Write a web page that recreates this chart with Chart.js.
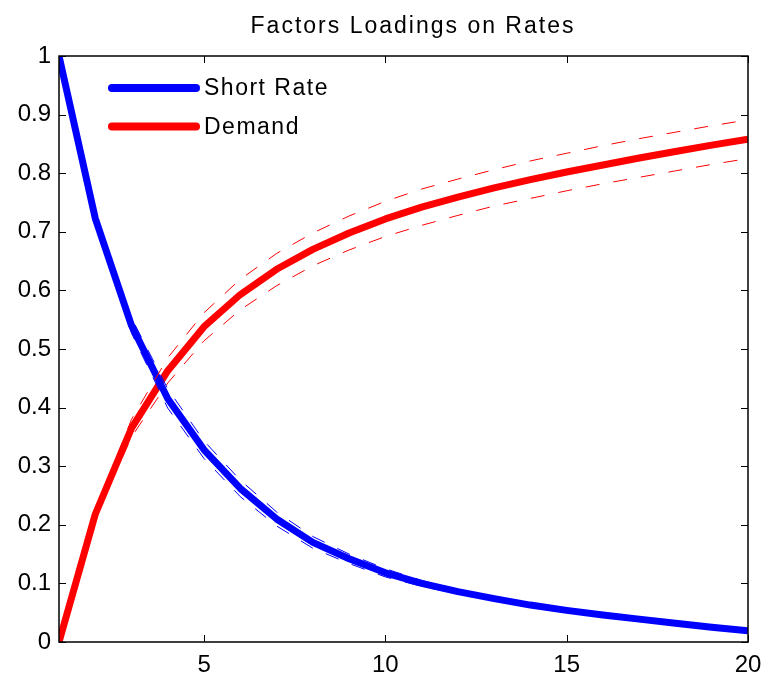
<!DOCTYPE html>
<html>
<head>
<meta charset="utf-8">
<script src="https://cdn.jsdelivr.net/npm/chart.js@4.4.1/dist/chart.umd.min.js"></script>
<style>
html,body{margin:0;padding:0;background:#fff;}
#wrap{width:764px;height:680px;position:relative;}
</style>
</head>
<body>
<div id="wrap"><canvas id="c" width="764" height="680"></canvas></div>
<script>
const chartTitle = "Factors Loadings on Rates";
const horizons = [1,2,3,4,5,6,7,8,9,10,11,12,13,14,15,16,17,18,19,20];
const xTicks = [5,10,15,20];
const yTicks = [0,0.1,0.2,0.3,0.4,0.5,0.6,0.7,0.8,0.9,1];
const yTickLabels = ["0","0.1","0.2","0.3","0.4","0.5","0.6","0.7","0.8","0.9","1"];
const seriesNames = ["Short Rate","Demand"];

const shortRate  = [1.0,0.723,0.540,0.415,0.328,0.262,0.210,0.170,0.142,0.118,0.100,0.086,0.074,0.063,0.054,0.046,0.039,0.032,0.025,0.019];
const shortUpper = [1.0,0.729,0.553,0.432,0.343,0.276,0.222,0.180,0.150,0.125,0.105,0.090,0.077,0.065,0.056,0.047,0.040,0.033,0.026,0.019];
const shortLower = [1.0,0.717,0.527,0.399,0.313,0.248,0.198,0.160,0.134,0.111,0.095,0.082,0.071,0.061,0.052,0.045,0.038,0.031,0.024,0.019];

const demand      = [0,0.218,0.365,0.463,0.538,0.593,0.636,0.670,0.698,0.722,0.742,0.759,0.775,0.789,0.802,0.814,0.826,0.837,0.848,0.858];
const demandUpper = [0,0.224,0.380,0.485,0.562,0.619,0.663,0.698,0.727,0.752,0.773,0.790,0.806,0.821,0.834,0.847,0.859,0.870,0.881,0.891];
const demandLower = [0,0.212,0.350,0.442,0.514,0.567,0.608,0.642,0.669,0.692,0.711,0.728,0.744,0.757,0.770,0.782,0.793,0.804,0.815,0.825];

const BLUE = '#0000ff', RED = '#ff0000';
const pts = arr => horizons.map((x,i)=>({x:x, y:arr[i]}));

function mainDs(label, arr, color){
  return {label:label, data:pts(arr), borderColor:color, backgroundColor:color, borderWidth:7,
    pointRadius:0, tension:0, clip:0, order:2, borderCapStyle:'butt', borderJoinStyle:'round', isMain:true};
}
function bandDs(arr, color){
  return {label:'', data:pts(arr), borderColor:color, borderWidth:1, borderDash:[14,14],
    pointRadius:0, tension:0, clip:0, order:1, isMain:false};
}

const frame = {
  id:'frame',
  afterDatasetsDraw(chart){
    const {ctx, chartArea:a, scales} = chart;
    ctx.save();
    ctx.strokeStyle = '#000';
    ctx.lineWidth = 1.5;
    ctx.strokeRect(a.left, a.top, a.right-a.left, a.bottom-a.top);
    ctx.lineWidth = 1;
    const tl = 7;
    ctx.beginPath();
    xTicks.forEach(v=>{
      const px = Math.round(scales.x.getPixelForValue(v))+0.5;
      ctx.moveTo(px, a.bottom); ctx.lineTo(px, a.bottom-tl);
      ctx.moveTo(px, a.top); ctx.lineTo(px, a.top+tl);
    });
    yTicks.forEach(v=>{
      const py = Math.round(scales.y.getPixelForValue(v))+0.5;
      ctx.moveTo(a.left, py); ctx.lineTo(a.left+tl, py);
      ctx.moveTo(a.right, py); ctx.lineTo(a.right-tl, py);
    });
    ctx.stroke();
    // title
    ctx.fillStyle = '#000';
    ctx.font = '23px "Liberation Sans", Arial, sans-serif';
    ctx.letterSpacing = '2px';
    ctx.textAlign = 'center';
    ctx.textBaseline = 'middle';
    ctx.fillText(chartTitle, 413, 27);
    // legend
    const mains = chart.data.datasets.filter(d=>d.isMain);
    ctx.font = '23px "Liberation Sans", Arial, sans-serif';
    ctx.letterSpacing = '1.5px';
    ctx.textAlign = 'left';
    mains.forEach((d,i)=>{
      const y = 88 + i*38.5;
      ctx.strokeStyle = d.borderColor;
      ctx.lineWidth = 8;
      ctx.lineCap = 'round';
      ctx.beginPath(); ctx.moveTo(112, y); ctx.lineTo(196, y); ctx.stroke();
      ctx.fillStyle = '#000';
      ctx.fillText(d.label, 204, y+1);
    });
    ctx.restore();
  }
};

new Chart(document.getElementById('c'), {
  type:'line',
  data:{datasets:[
    mainDs(seriesNames[0], shortRate, BLUE),
    bandDs(shortUpper, BLUE), bandDs(shortLower, BLUE),
    mainDs(seriesNames[1], demand, RED),
    bandDs(demandUpper, RED), bandDs(demandLower, RED)
  ]},
  options:{
    responsive:false, animation:false, devicePixelRatio:1,
    layout:{padding:{top:56, right:16, left:0, bottom:0}},
    plugins:{legend:{display:false}, title:{display:false}, tooltip:{enabled:false}},
    scales:{
      x:{type:'linear', min:1, max:20,
        afterBuildTicks(s){ s.ticks = xTicks.map(v=>({value:v})); },
        afterFit(s){ s.height = 38; s.paddingRight = 0; s.paddingLeft = 0; },
        grid:{display:false, drawTicks:false},
        border:{display:false},
        ticks:{color:'#000', padding:9, maxRotation:0, autoSkip:false,
          font:{family:'"Liberation Sans", Arial, sans-serif', size:24},
          callback:v=>String(v)}
      },
      y:{type:'linear', min:0, max:1,
        afterBuildTicks(s){ s.ticks = yTicks.map(v=>({value:v})); },
        afterFit(s){ s.width = 59; s.paddingTop = 0; s.paddingBottom = 0; },
        grid:{display:false, drawTicks:false},
        border:{display:false},
        ticks:{color:'#000', padding:8, autoSkip:false,
          font:{family:'"Liberation Sans", Arial, sans-serif', size:24},
          callback:(v,i)=>yTickLabels[yTicks.indexOf(v)] ?? String(v)}
      }
    }
  },
  plugins:[frame]
});
</script>
</body>
</html>
